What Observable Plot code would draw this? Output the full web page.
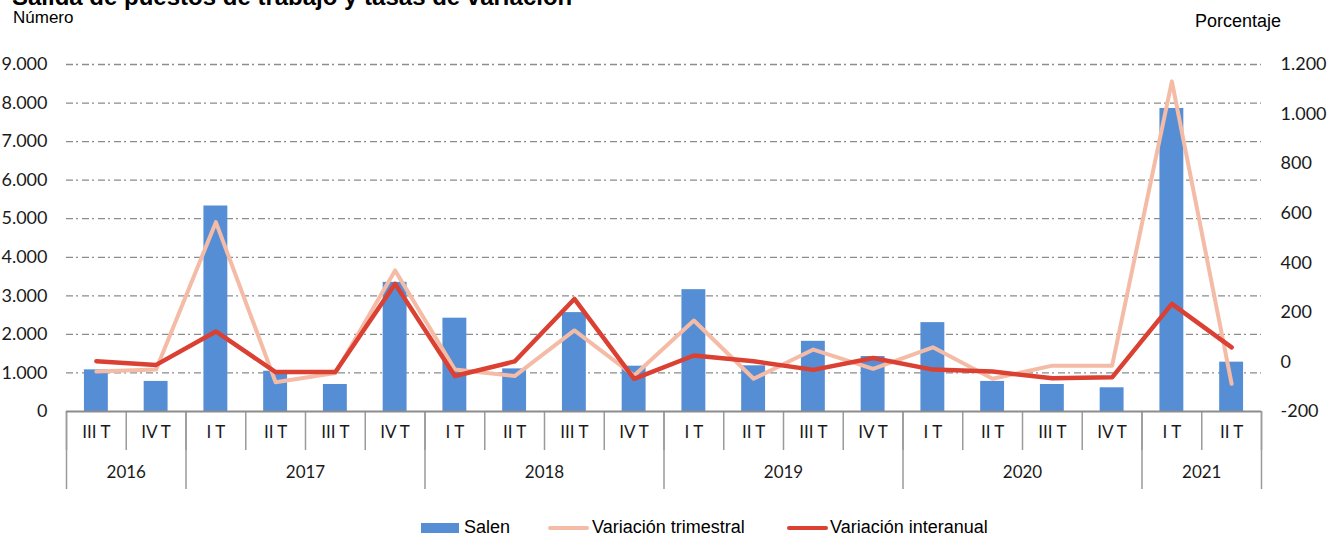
<!DOCTYPE html>
<html><head><meta charset="utf-8">
<script src="https://cdn.jsdelivr.net/npm/d3@7"></script>
<script src="https://cdn.jsdelivr.net/npm/@observablehq/plot@0.6"></script>
<style>
html,body{margin:0;padding:0;background:#fff;overflow:hidden}
#wrap{position:relative;width:1337px;height:537px;overflow:hidden}
#chart{position:absolute;left:0;top:0}
.t{position:absolute;white-space:nowrap;font-family:"Liberation Sans",Arial,sans-serif;color:#000;line-height:1}
.sw{position:absolute}
</style></head><body>
<div id="wrap">
  <div id="chart"></div>
  <div class="t" style="left:12px;top:-15.3px;font-size:24px;font-weight:bold">Salida de puestos de trabajo y tasas de variación</div>
  <div class="t" style="left:13px;top:9px;font-size:17px">Número</div>
  <div class="t" style="right:56px;top:11.5px;font-size:18px">Porcentaje</div>
  <div class="sw" style="left:421px;top:523px;width:38px;height:10px;background:#558ed5"></div>
  <div class="t" style="left:464px;top:518px;font-size:18px">Salen</div>
  <div class="sw" style="left:548px;top:526px;width:41px;height:4px;border-radius:2px;background:#f4bca6"></div>
  <div class="t" style="left:592px;top:518px;font-size:18px">Variación trimestral</div>
  <div class="sw" style="left:787px;top:526px;width:41px;height:4px;border-radius:2px;background:#da4133"></div>
  <div class="t" style="left:830px;top:518px;font-size:18px">Variación interanual</div>
</div>
<script>
const years = ["2016","2016","2017","2017","2017","2017","2018","2018","2018","2018","2019","2019","2019","2019","2020","2020","2020","2020","2021","2021"];
const quarters = ["III T","IV T","I T","II T","III T","IV T","I T","II T","III T","IV T","I T","II T","III T","IV T","I T","II T","III T","IV T","I T","II T"];
const salen = [1080, 780, 5330, 1045, 700, 3350, 2420, 1105, 2565, 1175, 3160, 1185, 1820, 1425, 2305, 780, 700, 615, 7860, 1280];
const varTrimestral = [-39, -31, 564, -82, -45, 369, -31, -57, 127, -55, 167, -68, 50, -28, 59, -68, -15, -15, 1132, -88];
const varInteranual = [3, -12, 123, -41, -41, 315, -57, 2, 254, -68, 26, 3, -32, 16, -31, -39, -66, -62, 234, 59];
const leftTicks = [0, 1000, 2000, 3000, 4000, 5000, 6000, 7000, 8000, 9000];
const pctTicks = [-200, 0, 200, 400, 600, 800, 1000, 1200];

const Y_MAX = 9000, P_MIN = -200, P_MAX = 1200;
const toLeft = v => (v - P_MIN) * Y_MAX / (P_MAX - P_MIN);
const fromLeft = v => Math.round(v * (P_MAX - P_MIN) / Y_MAX + P_MIN);
const fmt = v => (v < 0 ? "-" : "") + Math.abs(v).toString().replace(/\B(?=(\d{3})+(?!\d))/g, ".");

const data = quarters.map((q, i) => ({i, q, year: years[i], salen: salen[i], vt: varTrimestral[i], vi: varInteranual[i]}));
const yearGroups = d3.groups(data, d => d.year).map(([year, rows]) => ({year, x1: rows[0].i, x2: rows[rows.length - 1].i + 1}));
const yearBounds = [...new Set(yearGroups.flatMap(g => [g.x1, g.x2]))];

const chart = Plot.plot({
  width: 1337, height: 505,
  marginLeft: 66, marginRight: 76, marginTop: 64, marginBottom: 94,
  x: {type: "linear", domain: [0, quarters.length], axis: null, label: null},
  y: {domain: [0, Y_MAX], axis: null, label: null},
  style: {fontFamily: "Lato, sans-serif", color: "#1a1a1a", background: "transparent", overflow: "visible"},
  marks: [
    Plot.ruleY(leftTicks.filter(d => d > 0), {stroke: "#8c8c8c", strokeWidth: 1.3, strokeDasharray: "7,3,2,4"}),
    Plot.rectY(data, {x1: d => d.i + 0.3, x2: d => d.i + 0.7, y: "salen", fill: "#558ed5"}),
    Plot.line(data, {x: d => d.i + 0.5, y: d => toLeft(d.vt), stroke: "#f4bca6", strokeWidth: 4}),
    Plot.line(data, {x: d => d.i + 0.5, y: d => toLeft(d.vi), stroke: "#da4133", strokeWidth: 4.5}),
    Plot.axisY({anchor: "left", ticks: leftTicks, tickSize: 0, tickPadding: 19, tickFormat: fmt, fontSize: 18, label: null}),
    Plot.axisY({anchor: "right", ticks: pctTicks.map(toLeft), tickSize: 0, tickPadding: 19, tickFormat: v => fmt(fromLeft(v)), fontSize: 18, label: null}),
    Plot.axisX({ticks: d3.range(0, quarters.length + 1), tickSize: 39, tickFormat: () => "", stroke: "#9a9a9a", strokeWidth: 1.5, label: null}),
    Plot.axisX({ticks: yearBounds, tickSize: 78, tickFormat: () => "", stroke: "#9a9a9a", strokeWidth: 1.5, label: null}),
    Plot.ruleY([0], {stroke: "#8c8c8c", strokeWidth: 1.8}),
    Plot.text(data, {x: d => d.i + 0.5, text: "q", frameAnchor: "bottom", dy: 26.5, fontSize: 17}),
    Plot.text(yearGroups, {x: d => (d.x1 + d.x2) / 2, text: "year", frameAnchor: "bottom", dy: 66, fontSize: 17})
  ]
});
document.getElementById("chart").appendChild(chart);
</script>
</body></html>
